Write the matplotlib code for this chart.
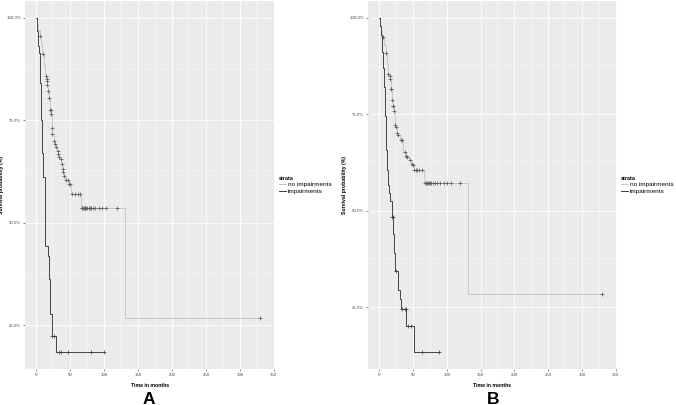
import numpy as np
import matplotlib
matplotlib.use("Agg")
import matplotlib.pyplot as plt
from matplotlib.lines import Line2D

plt.rcParams['font.family'] = ['Liberation Sans', 'DejaVu Sans']

# ---- panel A ----
a_no_t = [0, 1, 3, 5, 7, 9, 11, 12.5, 13.5, 15, 15.5, 16, 17, 18.5, 19.5, 21.3, 22.5, 23.3,
          26, 27, 29, 31, 32, 33.5, 35, 37, 38.5, 39.5, 40, 42, 47.5, 51, 65.5, 130, 329]
a_no_s = [100, 98.5, 97.0, 95.6, 93.5, 91.2, 88.5, 86.2, 85.9, 85.1, 84.5, 83.7, 82.1, 80.5, 77.6, 76.6, 73.1, 71.6,
          70.0, 69.2, 68.4, 67.5, 66.8, 66.0, 65.5, 64.3, 63.1, 62.3, 61.5, 60.3, 59.4, 56.9, 53.5, 26.7, 26.7]
a_no_cens = [5.4, 9.8, 13.7, 15.2, 15.7, 16.2, 17.2, 18.7, 20.1, 21, 21.6, 23.1, 23.5, 26.5, 27.5, 29.4,
             31.3, 32.4, 33.8, 35.7, 37.2, 38.7, 39.7, 40.1, 43.1, 46, 48.1, 49.6, 52.9, 56.9, 61.8, 64.3,
             67, 68, 69, 70, 71, 72, 73, 75, 77, 79, 81, 84, 87, 92, 97, 103, 119, 329]

a_imp_t = [0, 0.5, 2, 4.5, 6, 7, 7.8, 10.5, 12.5, 16.5, 18.5, 20.5, 22.5, 28.5, 100]
a_imp_s = [100, 96.8, 93.2, 91.5, 84.0, 75.0, 67.0, 61.2, 44.4, 41.8, 36.2, 27.7, 22.3, 18.4, 18.4]
a_imp_cens = [23.5, 26, 33, 37, 46, 81, 100]

# ---- panel B ----
b_no_t = [0, 1, 3, 4.5, 7, 9.5, 11.5, 13, 15, 15.5, 17, 18.5, 20, 21.5, 23, 24.5, 26, 28, 31,
          35, 39.5, 40.5, 44, 47, 49, 51, 66, 131, 330]
b_no_s = [100, 97.9, 96.5, 95.1, 93.0, 90.9, 88.0, 85.5, 84.9, 84.2, 81.4, 78.6, 77.2, 75.8, 72.3, 71.6, 70.0, 69.7, 68.2,
          65.1, 64.2, 63.8, 63.0, 62.1, 61.9, 60.6, 57.1, 28.4, 28.4]
b_no_cens = [4.9, 9.9, 13.3, 15.2, 15.8, 17.3, 17.7, 18.8, 20.2, 20.7, 21.7, 23.2, 24.7, 26.6, 28.1, 31.5, 33,
             37.4, 39.9, 40.9, 44.8, 47.7, 49.8, 51.5, 54, 56, 58, 62.5,
             67.5, 69, 70.5, 72, 73.5, 75, 77, 79, 82, 86, 90, 95, 100, 106, 120, 330]

b_imp_t = [0, 0.5, 2.5, 4, 5.5, 7.5, 8.5, 10, 12, 13.5, 15, 16.5, 18.5, 20.5, 21.5, 22.5, 27, 30, 32, 40, 51.5, 88.2]
b_imp_s = [100, 97.9, 95.4, 91.0, 87.0, 82.0, 74.5, 65.7, 60.6, 56.7, 54.6, 52.4, 48.3, 44.0, 39.0, 34.4, 29.5, 27.1,
           24.5, 20.2, 13.3, 13.3]
b_imp_cens = [19.2, 20, 24.1, 34, 37.4, 38.8, 42.4, 46.2, 62.5, 88.2]

strata = ["no impairments", "impairments"]
col_no = "#c6c6c6"
col_imp = "#3a3a3a"
x_ticks = [0, 50, 100, 150, 200, 250, 300, 350]
y_ticks = [25, 50, 75, 100]

fig = plt.figure(figsize=(6.76, 4.05), dpi=100)
W, H = 676, 405


def surv_at(t, s, c):
    t = np.asarray(t)
    s = np.asarray(s)
    return s[np.searchsorted(t, c, side='right') - 1]


def km_panel(rect, curves, letter, letter_x):
    ax = fig.add_axes(rect)
    ax.set_facecolor("#ebebeb")
    lo = min(min(c[1]) for c in curves)
    pad = 0.05 * (100 - lo)
    ax.set_ylim(lo - pad, 100 + pad)
    ax.set_xlim(-16.75, 351.75)
    ax.set_xticks(x_ticks)
    ax.set_yticks(y_ticks)
    ax.set_xticks([25, 75, 125, 175, 225, 275, 325], minor=True)
    ax.set_yticks([37.5, 62.5, 87.5], minor=True)
    ax.grid(which='major', color='white', linewidth=0.6)
    ax.grid(which='minor', color='white', linewidth=0.3)
    ax.set_axisbelow(True)
    for sp in ax.spines.values():
        sp.set_visible(False)
    ax.tick_params(which='major', length=1.5, width=0.4, color='#333333', labelsize=3.2,
                   labelcolor='#4d4d4d', pad=1.2)
    ax.tick_params(which='minor', length=0)
    ax.set_yticklabels(["%.1f%%" % v for v in y_ticks])
    for t, s, cens, col, ccol in curves:
        ax.step(t, s, where='post', color=col, linewidth=0.65)
        ax.plot(cens, surv_at(t, s, cens), linestyle='none', marker='+', markersize=2.3,
                markeredgewidth=0.5, color=ccol)
    ax.set_xlabel("Time in months", fontsize=3.7, fontweight='bold', labelpad=4.5)
    ax.set_ylabel("Survival probability (%)", fontsize=3.7, fontweight='bold', labelpad=2)
    handles = [Line2D([], [], color=col_no, linewidth=0.7), Line2D([], [], color=col_imp, linewidth=0.7)]
    leg = ax.legend(handles, strata, title="strata", loc='center left', bbox_to_anchor=(1.015, 0.5),
                    frameon=False, fontsize=4.6, handlelength=1.1, handletextpad=0.35,
                    labelspacing=0.15, borderaxespad=0, borderpad=0)
    leg.get_title().set_fontsize(4.0)
    leg.get_title().set_fontweight('bold')
    leg._legend_box.align = "left"
    fig.text(letter_x / W, 1 - 399 / H, letter, fontsize=12.5, fontweight='bold',
             ha='center', va='center')
    return ax


km_panel([25 / W, 36 / H, 250 / W, 368 / H],
         [(a_no_t, a_no_s, a_no_cens, col_no, '#555555'),
          (a_imp_t, a_imp_s, a_imp_cens, col_imp, col_imp)], "A", 149)
km_panel([368 / W, 36 / H, 249 / W, 368 / H],
         [(b_no_t, b_no_s, b_no_cens, col_no, '#555555'),
          (b_imp_t, b_imp_s, b_imp_cens, col_imp, col_imp)], "B", 493)

fig.savefig("out.png", dpi=100)
